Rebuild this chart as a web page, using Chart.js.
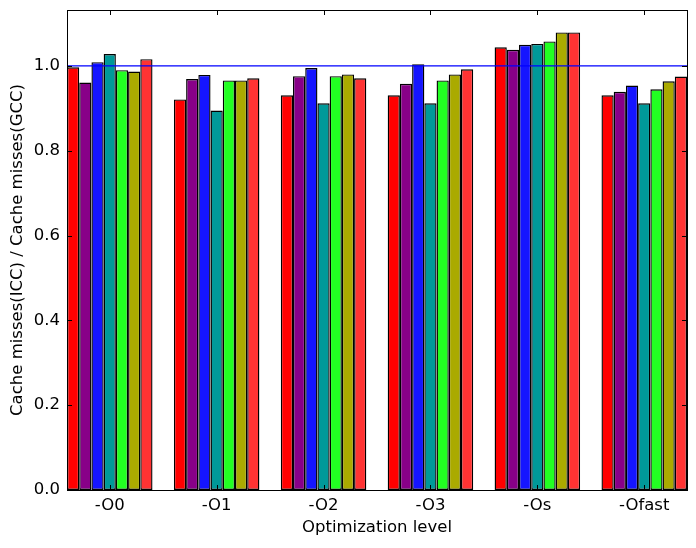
<!DOCTYPE html>
<html>
<head>
<meta charset="utf-8">
<script src="https://cdn.jsdelivr.net/npm/chart.js@4/dist/chart.umd.min.js"></script>
<style>
  html, body { margin: 0; padding: 0; background: #fff; }
</style>
</head>
<body>
<canvas id="chart" width="696" height="548"></canvas>
<script>
// niveis de otimizacao (grupos no eixo x)
const levels = ["-O0", "-O1", "-O2", "-O3", "-Os", "-Ofast"];
const yTicks = [0.0, 0.2, 0.4, 0.6, 0.8, 1.0];

// uma serie por barra dentro de cada grupo (razao ICC / GCC)
const serie1 = [0.997, 0.921, 0.931, 0.931, 1.044, 0.931];
const serie2 = [0.961, 0.969, 0.976, 0.958, 1.038, 0.939];
const serie3 = [1.009, 0.979, 0.995, 1.004, 1.050, 0.954];
const serie4 = [1.028, 0.895, 0.912, 0.912, 1.052, 0.912];
const serie5 = [0.990, 0.966, 0.976, 0.966, 1.058, 0.945];
const serie6 = [0.987, 0.966, 0.980, 0.980, 1.079, 0.964];
const serie7 = [1.016, 0.971, 0.971, 0.992, 1.079, 0.975];
const referencia = 1.0;

const series = [serie1, serie2, serie3, serie4, serie5, serie6, serie7];
const cores = ["#ff0000", "#880088", "#1515ff", "#009999", "#22ff22", "#aaaa00", "#ff3333"];

const fonte = { family: "'DejaVu Sans'", size: 16.5 };

// moldura e ticks para dentro, estilo matplotlib
const moldura = {
  id: "moldura",
  afterDraw(chart) {
    const { ctx, chartArea: a, scales } = chart;
    const len = 5;
    ctx.save();
    ctx.strokeStyle = "#000";
    ctx.lineWidth = 1;
    ctx.beginPath();
    yTicks.forEach((v) => {
      const y = Math.round(scales.y.getPixelForValue(v)) + 0.5;
      ctx.moveTo(a.left, y); ctx.lineTo(a.left + len, y);
      ctx.moveTo(a.right, y); ctx.lineTo(a.right - len, y);
    });
    levels.forEach((_, i) => {
      const x = Math.round(scales.x.getPixelForValue(i)) + 0.5;
      ctx.moveTo(x, a.top); ctx.lineTo(x, a.top + len);
      ctx.moveTo(x, a.bottom); ctx.lineTo(x, a.bottom - len);
    });
    ctx.stroke();
    ctx.strokeRect(Math.round(a.left) + 0.5, Math.round(a.top) + 0.5,
      Math.round(a.right - a.left), Math.round(a.bottom - a.top));
    ctx.restore();
  },
};

const datasets = series.map((s, k) => ({
  type: "bar",
  data: s.map((v, i) => ({ x: i, y: v })),
  backgroundColor: cores[k],
  borderColor: "#000",
  borderWidth: 1.4,
  borderSkipped: false,
  categoryPercentage: 0.8,
  barPercentage: 1.0,
  order: 2,
}));

datasets.push({
  type: "line",
  data: [{ x: -0.4, y: referencia }, { x: 5.4, y: referencia }],
  borderColor: "#0000ff",
  borderWidth: 1.2,
  pointRadius: 0,
  order: 1,
});

new Chart(document.getElementById("chart"), {
  type: "bar",
  data: { datasets: datasets },
  options: {
    responsive: false,
    animation: false,
    devicePixelRatio: 1,
    layout: { padding: { top: 10, right: 9, left: 0, bottom: 0 } },
    plugins: { legend: { display: false }, tooltip: { enabled: false } },
    scales: {
      x: {
        type: "linear",
        min: -0.4,
        max: 5.4,
        offset: false,
        grid: { display: false, drawTicks: false },
        border: { display: false },
        afterBuildTicks: (scale) => {
          scale.ticks = levels.map((_, i) => ({ value: i }));
        },
        afterFit: (scale) => {
          scale.height = 58;
          scale.paddingLeft = 0;
          scale.paddingRight = 0;
        },
        ticks: {
          autoSkip: false,
          maxRotation: 0,
          padding: 6,
          color: "#000",
          font: fonte,
          callback: (v) => levels[v],
        },
        title: {
          display: true,
          text: "Optimization level",
          color: "#000",
          font: fonte,
          padding: { top: 0, bottom: 10 },
        },
      },
      y: {
        min: 0,
        max: 1.132,
        grid: { display: false, drawTicks: false },
        border: { display: false },
        afterBuildTicks: (scale) => {
          scale.ticks = yTicks.map((v) => ({ value: v }));
        },
        afterFit: (scale) => {
          scale.width = 67;
          scale.paddingTop = 0;
          scale.paddingBottom = 0;
        },
        ticks: {
          padding: 7,
          color: "#000",
          font: fonte,
          callback: (v) => v.toFixed(1),
        },
        title: {
          display: true,
          text: "Cache misses(ICC) / Cache misses(GCC)",
          color: "#000",
          font: fonte,
          padding: { top: 8, bottom: 0 },
        },
      },
    },
  },
  plugins: [moldura],
});
</script>
</body>
</html>
